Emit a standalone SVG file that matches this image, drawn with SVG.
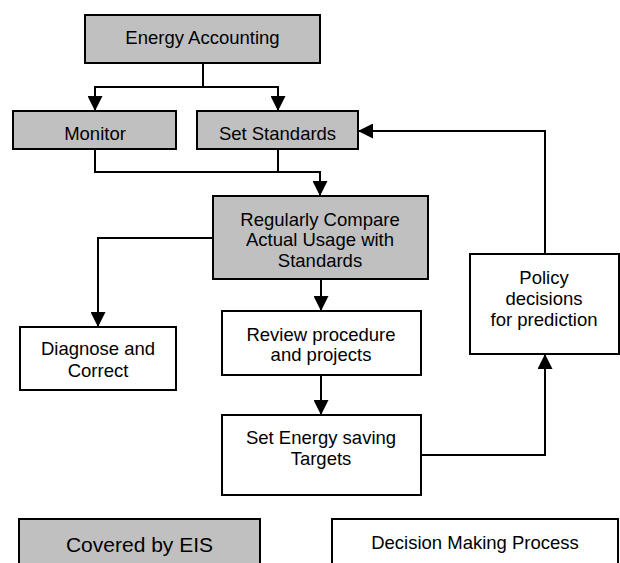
<svg xmlns="http://www.w3.org/2000/svg" width="620" height="563" viewBox="0 0 620 563">
<style>
.box{stroke:#000;stroke-width:2}
.g{fill:#c0c0c0}
.w{fill:#fff}
text{font-family:"Liberation Sans",Arial,sans-serif;font-size:18.5px;fill:#000;text-anchor:middle}
.c{fill:none;stroke:#000;stroke-width:2}
</style>
<defs>
<marker id="ah" markerUnits="userSpaceOnUse" markerWidth="15" markerHeight="15" refX="15" refY="7.5" orient="auto" viewBox="0 0 15 15">
<path d="M0,0 L15,7.5 L0,15 z" fill="#000"/>
</marker>
</defs>
<rect width="620" height="563" fill="#fff"/>
<g id="connectors">
<path class="c" d="M203,63 V87 H95 V111" marker-end="url(#ah)"/>
<path class="c" d="M203,87 H278 V111" marker-end="url(#ah)"/>
<path class="c" d="M95,149 V172 H320 V196" marker-end="url(#ah)"/>
<path class="c" d="M278,149 V172"/>
<path class="c" d="M213,238 H98 V327" marker-end="url(#ah)"/>
<path class="c" d="M321,279 V311" marker-end="url(#ah)"/>
<path class="c" d="M321,375 V415" marker-end="url(#ah)"/>
<path class="c" d="M421,455 H545 V354" marker-end="url(#ah)"/>
<path class="c" d="M545,254 V131 H358" marker-end="url(#ah)"/>
</g>
<g id="energy-accounting"><rect class="box g" x="85" y="15" width="235" height="48"/><text x="202.5" y="44">Energy Accounting</text></g>
<g id="monitor"><rect class="box g" x="13" y="111" width="163" height="38"/><text x="95" y="140">Monitor</text></g>
<g id="set-standards"><rect class="box g" x="197" y="111" width="161" height="38"/><text x="277.5" y="140">Set Standards</text></g>
<g id="compare"><rect class="box g" x="213" y="196" width="215" height="83"/><text x="320" y="226">Regularly Compare</text><text x="320" y="246">Actual Usage with</text><text x="320" y="267">Standards</text></g>
<g id="diagnose"><rect class="box w" x="20" y="327" width="156" height="63"/><text x="98" y="355">Diagnose and</text><text x="98" y="377">Correct</text></g>
<g id="review"><rect class="box w" x="222" y="311" width="199" height="64"/><text x="321" y="341">Review procedure</text><text x="321" y="361">and projects</text></g>
<g id="policy"><rect class="box w" x="470" y="254" width="149" height="100"/><text x="544" y="284">Policy</text><text x="544" y="305">decisions</text><text x="544" y="326">for prediction</text></g>
<g id="targets"><rect class="box w" x="222" y="415" width="199" height="80"/><text x="321" y="444">Set Energy saving</text><text x="321" y="465">Targets</text></g>
<g id="legend-eis"><rect class="box g" x="19" y="519" width="241" height="60"/><text x="139.5" y="552" style="font-size:21px">Covered by EIS</text></g>
<g id="legend-decision"><rect class="box w" x="332" y="519" width="286" height="60"/><text x="475" y="549">Decision Making Process</text></g>
</svg>
